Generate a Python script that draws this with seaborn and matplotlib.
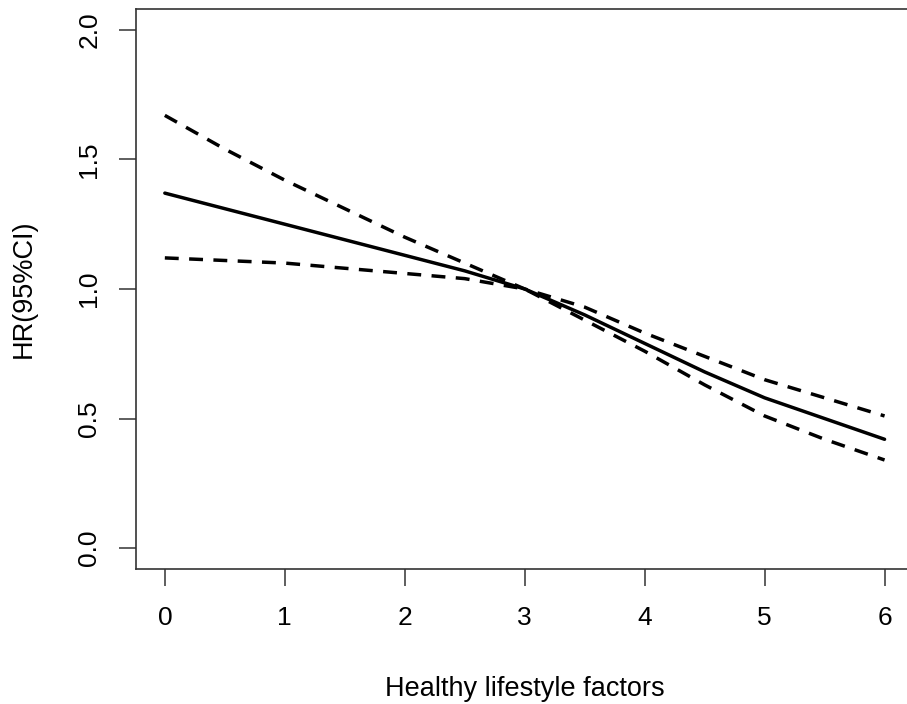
import matplotlib
matplotlib.use("Agg")
import matplotlib.pyplot as plt
import seaborn as sns
import pandas as pd

# number of healthy lifestyle factors and estimated hazard ratio with 95% CI
factors = [0, 0.5, 1, 1.5, 2, 2.5, 3, 3.5, 4, 4.5, 5, 5.5, 6]
hr = [1.37, 1.31, 1.25, 1.19, 1.13, 1.07, 1.00, 0.90, 0.79, 0.68, 0.58, 0.50, 0.42]
ci_upper = [1.67, 1.54, 1.42, 1.31, 1.20, 1.10, 1.00, 0.93, 0.83, 0.74, 0.65, 0.58, 0.51]
ci_lower = [1.12, 1.11, 1.10, 1.08, 1.06, 1.04, 1.00, 0.88, 0.76, 0.63, 0.51, 0.42, 0.34]

df = pd.DataFrame({"x": factors, "hr": hr, "upper": ci_upper, "lower": ci_lower})

sns.set_style("ticks")
plt.rcParams["font.family"] = ["Liberation Sans", "DejaVu Sans"]

fig = plt.figure(figsize=(9.07, 7.04), dpi=100)
ax = fig.add_axes([0.15, 0.192, 0.857, 0.795])

sns.lineplot(data=df, x="x", y="hr", ax=ax, color="black", linewidth=2.5)
sns.lineplot(data=df, x="x", y="upper", ax=ax, color="black", linewidth=2.5)
ax.lines[-1].set_dashes([4, 3])
sns.lineplot(data=df, x="x", y="lower", ax=ax, color="black", linewidth=2.5)
ax.lines[-1].set_dashes([4, 3])

ax.set_xlim(-0.24, 6.24)
ax.set_ylim(-0.08, 2.08)
ax.set_xticks(range(0, 7))
ax.set_yticks([0.0, 0.5, 1.0, 1.5, 2.0])
ax.set_yticklabels(["0.0", "0.5", "1.0", "1.5", "2.0"], rotation=90, va="center")

for side in ["left", "bottom", "top", "right"]:
    ax.spines[side].set_visible(True)
    ax.spines[side].set_color("#333333")
    ax.spines[side].set_linewidth(1.2)

ax.tick_params(axis="both", direction="out", length=12, width=1.1, color="#333333",
               labelsize=19, labelcolor="black")
ax.tick_params(axis="x", pad=15)
ax.tick_params(axis="y", pad=13)

ax.set_xlabel("Healthy lifestyle factors", fontsize=19.5, labelpad=33, color="black")
ax.set_ylabel("HR(95%CI)", fontsize=19.5, labelpad=29, color="black")

fig.savefig("out.png", dpi=100, facecolor="white")
